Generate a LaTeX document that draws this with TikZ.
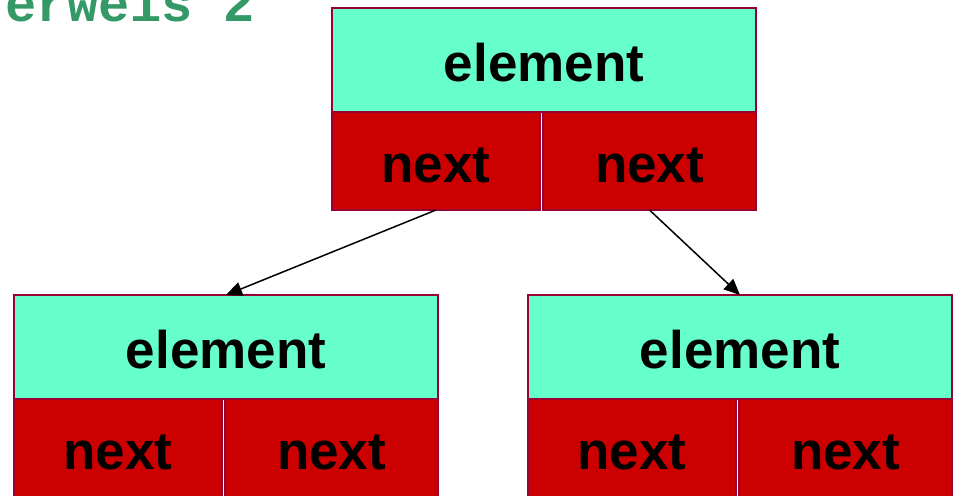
\documentclass[tikz,border=0pt]{standalone}
\usepackage{fontspec}
\setmainfont{Liberation Sans}
\newfontfamily\monofnt{Liberation Mono}
\usetikzlibrary{arrows.meta}
\definecolor{cellcyan}{RGB}{102,255,204}
\definecolor{cellred}{RGB}{204,0,0}
\definecolor{cellborder}{RGB}{153,0,51}
\definecolor{titlegreen}{RGB}{51,153,102}
\begin{document}
\begin{tikzpicture}[x=1pt,y=-1pt,
  cellbase/.style={draw=cellborder, line width=1.5pt, inner sep=0pt, outer sep=0pt,
    anchor=north west, text height=42pt, text depth=0pt,
    font=\fontsize{53}{60}\selectfont\bfseries, text=black},
  elembox/.style={cellbase, fill=cellcyan, minimum width=424pt, minimum height=104pt},
  nextboxl/.style={cellbase, fill=cellred, minimum width=208pt, minimum height=98pt},
  nextboxr/.style={cellbase, fill=cellred, minimum width=213pt, minimum height=98pt},
  arr/.style={line width=1.5pt, -{Triangle[length=16pt,width=14pt]}}]
\clip (0,0) rectangle (957,495);
\fill[white] (0,0) rectangle (957,495);
% title fragment
\node[anchor=base west, inner sep=0pt, text=titlegreen,
  font=\monofnt\fontsize{52}{60}\selectfont\bfseries] (title) at (5,22) {erweis 2};
% top block
\node[elembox] (te) at (332,8) {element};
\node[nextboxl] (tn1) at (332,112) {next};
\node[nextboxr] (tn2) at (543,112) {next};
% bottom left block
\node[elembox] (le) at (14,295) {element};
\node[nextboxl] (ln1) at (14,399) {next};
\node[nextboxr] (ln2) at (225,399) {next};
% bottom right block
\node[elembox] (re) at (528,295) {element};
\node[nextboxl] (rn1) at (528,399) {next};
\node[nextboxr] (rn2) at (739,399) {next};
% connectors
\draw[arr] (tn1.south) -- (le.north);
\draw[arr] (tn2.south) -- (re.north);
\end{tikzpicture}
\end{document}
